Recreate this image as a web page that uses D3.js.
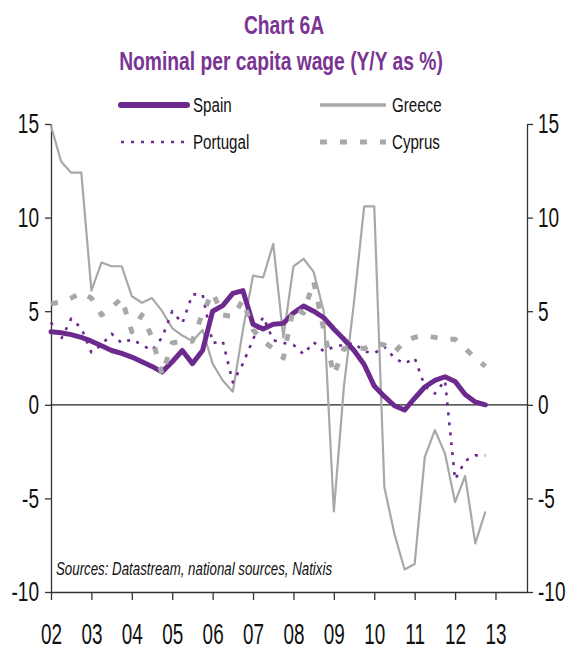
<!DOCTYPE html>
<html>
<head>
<meta charset="utf-8">
<script src="https://cdn.jsdelivr.net/npm/d3@7"></script>
<style>
  body { margin: 0; background: #fff; }
  svg { display: block; font-family: "Liberation Sans", Arial, sans-serif; }
</style>
</head>
<body>
<div id="app"></div>
<script>
// quarterly observations, 2002Q1 .. 2012Q4
const quarters = [
  2002.00, 2002.25, 2002.50, 2002.75, 2003.00, 2003.25, 2003.50, 2003.75,
  2004.00, 2004.25, 2004.50, 2004.75, 2005.00, 2005.25, 2005.50, 2005.75,
  2006.00, 2006.25, 2006.50, 2006.75, 2007.00, 2007.25, 2007.50, 2007.75,
  2008.00, 2008.25, 2008.50, 2008.75, 2009.00, 2009.25, 2009.50, 2009.75,
  2010.00, 2010.25, 2010.50, 2010.75, 2011.00, 2011.25, 2011.50, 2011.75,
  2012.00, 2012.25, 2012.50, 2012.75
];

const spain = [
  3.9, 3.85, 3.75, 3.6, 3.4, 3.15, 2.9, 2.75,
  2.55, 2.3, 2.05, 1.75, 2.3, 2.9, 2.2, 2.9,
  5.0, 5.3, 5.95, 6.1, 4.3, 4.05, 4.3, 4.35,
  4.9, 5.28, 5.0, 4.65, 4.05, 3.5, 2.9, 2.15,
  1.0, 0.45, -0.05, -0.28, 0.35, 0.95, 1.3, 1.5,
  1.25, 0.55, 0.15, 0.0
];
const greece = [
  14.9, 13.0, 12.4, 12.4, 6.1, 7.6, 7.4, 7.4,
  5.8, 5.45, 5.7, 5.0, 4.1, 3.7, 3.4, 4.0,
  2.2, 1.3, 0.7, 4.0, 6.9, 6.8, 8.6, 3.6,
  7.4, 7.8, 7.1, 5.0, -5.7, 1.0, 5.5, 10.6,
  10.6, -4.4, -6.9, -8.8, -8.5, -2.8, -1.35, -2.6,
  -5.2, -3.8, -7.4, -5.7
];
const portugal = [
  4.4, 3.5, 4.6, 4.1, 2.8, 3.2, 3.8, 3.3,
  3.5, 3.2, 2.9, 3.6, 5.0, 4.35, 5.9, 5.9,
  3.3, 3.4, 1.2, 2.2, 3.5, 4.7, 3.45, 3.3,
  3.2, 2.7, 3.35, 2.85, 3.1, 3.2, 3.3, 2.85,
  2.75, 3.1, 2.5, 2.2, 2.5, 1.0, 0.6, 1.3,
  -4.0, -3.0, -2.7, -2.7
];
const cyprus = [
  5.4, 5.5, 5.7, 6.0, 5.7, 4.8, 5.2, 5.7,
  3.9, 4.8, 3.6, 1.6, 3.3, 3.4, 3.4, 4.9,
  6.0, 4.8, 4.7, 5.6, 4.0, 3.4, 3.0, 2.5,
  5.2, 4.9, 6.6, 4.0, 1.6, 3.0, 3.1, 3.0,
  3.3, 3.2, 2.8, 3.4, 3.6, 3.7, 3.6, 3.5,
  3.5, 3.0, 2.5, 2.05
];

const yearTicks = [2002, 2003, 2004, 2005, 2006, 2007, 2008, 2009, 2010, 2011, 2012, 2013];
const yearLabels = ["02", "03", "04", "05", "06", "07", "08", "09", "10", "11", "12", "13"];
const yTicks = [-10, -5, 0, 5, 10, 15];
const yLabels = ["-10", "-5", "0", "5", "10", "15"];

const purple = "#6c2a8f";
const titlePurple = "#7a3594";
const grey = "#a8a8a8";

const w = 568;
const h = 652;

const svg = d3.select("#app").append("svg").attr("width", w).attr("height", h);

const x = d3.scaleLinear().domain([2002, 2013.78]).range([51, 527]);
const y = d3.scaleLinear().domain([-10, 15]).range([592, 124]);

// squeezed text, the source picture is narrow
function label(str, px, py, size, sx, opts = {}) {
  return svg.append("text")
    .attr("transform", `translate(${px},${py}) scale(${sx},1)`)
    .attr("text-anchor", opts.anchor || "start")
    .attr("font-size", size)
    .attr("font-weight", opts.weight || "normal")
    .attr("font-style", opts.style || "normal")
    .attr("fill", opts.fill || "#111")
    .text(str);
}

//title
label("Chart 6A", 284, 34, 25, 0.77, { anchor: "middle", weight: "bold", fill: titlePurple });
label("Nominal per capita wage (Y/Y as %)", 281, 70, 25, 0.77, { anchor: "middle", weight: "bold", fill: titlePurple });

//axes
const axisColor = "#333";
const yFmt = (d, i) => yLabels[i];
const left = svg.append("g").attr("transform", "translate(51,0)")
  .call(d3.axisLeft(y).tickValues(yTicks).tickSize(6).tickSizeOuter(0).tickFormat(yFmt));
const right = svg.append("g").attr("transform", "translate(527,0)")
  .call(d3.axisRight(y).tickValues(yTicks).tickSize(6).tickSizeOuter(0).tickFormat(yFmt));
const bottom = svg.append("g").attr("transform", "translate(0,592)")
  .call(d3.axisBottom(x).tickValues(yearTicks).tickSize(8).tickSizeOuter(0)
    .tickFormat((d, i) => yearLabels[i]));

[left, right, bottom].forEach((g) => {
  g.select(".domain").attr("stroke", axisColor).attr("stroke-width", 1.3);
  g.selectAll(".tick line").attr("stroke", axisColor).attr("stroke-width", 1.3);
  g.selectAll("text").attr("fill", "#111").attr("font-size", 28)
    .attr("font-family", "Liberation Sans, Arial, sans-serif");
});
left.selectAll("text").attr("x", 0).attr("transform", "translate(-12,0) scale(0.68,1)");
right.selectAll("text").attr("x", 0).attr("transform", "translate(11,0) scale(0.68,1)");
bottom.selectAll("text").attr("y", 0).attr("dy", 0).attr("font-size", 30)
  .attr("transform", "translate(0,52) scale(0.63,1)");

// zero line
svg.append("line")
  .attr("x1", x(2002)).attr("x2", x(2013.78))
  .attr("y1", y(0)).attr("y2", y(0))
  .attr("stroke", "#222").attr("stroke-width", 1.3);

//series
const series = [
  { name: "Greece", values: greece, color: grey, width: 2.2, dash: null, cap: "butt" },
  { name: "Spain", values: spain, color: purple, width: 5, dash: null, cap: "round" },
  { name: "Portugal", values: portugal, color: purple, width: 2.6, dash: "3,7", cap: "butt" },
  { name: "Cyprus", values: cyprus, color: grey, width: 5, dash: "7,13", cap: "butt" }
];

const line = d3.line().x((d) => x(d[0])).y((d) => y(d[1]));

series.forEach((s) => {
  svg.append("path")
    .datum(quarters.map((q, i) => [q, s.values[i]]))
    .attr("d", line)
    .attr("fill", "none")
    .attr("stroke", s.color)
    .attr("stroke-width", s.width)
    .attr("stroke-linejoin", "round")
    .attr("stroke-linecap", s.cap)
    .attr("stroke-dasharray", s.dash);
});

//legend
const legendItems = [
  { s: series[1], x: 121, y: 105 },
  { s: series[0], x: 320, y: 105 },
  { s: series[2], x: 121, y: 142 },
  { s: series[3], x: 320, y: 142 }
];
legendItems.forEach((it) => {
  svg.append("line")
    .attr("x1", it.x).attr("x2", it.x + 66)
    .attr("y1", it.y).attr("y2", it.y)
    .attr("stroke", it.s.color)
    .attr("stroke-width", it.s.name === "Spain" ? 6 : it.s.name === "Greece" ? 3.5 : it.s.width)
    .attr("stroke-linecap", it.s.cap)
    .attr("stroke-dasharray", it.s.dash);
  label(it.s.name, it.x + 72, it.y + 7, 21, 0.72);
});

//source
label("Sources: Datastream, national sources, Natixis", 56, 575, 19, 0.7, { style: "italic" });
</script>
</body>
</html>
